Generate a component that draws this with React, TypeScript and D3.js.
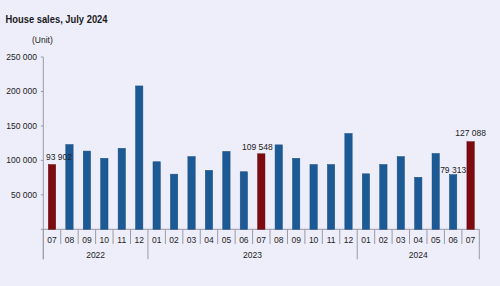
import React from "react";
import * as d3 from "d3";

const months = ["07","08","09","10","11","12","01","02","03","04","05","06","07","08","09","10","11","12","01","02","03","04","05","06","07"];
const years = ["2022","2022","2022","2022","2022","2022","2023","2023","2023","2023","2023","2023","2023","2023","2023","2023","2023","2023","2024","2024","2024","2024","2024","2024","2024"];
const sales = [93902,123000,113500,103000,117500,208000,98000,80000,105500,85500,113000,83500,109548,122500,103000,94000,94000,139000,80500,94000,105500,75500,110000,79313,127088];
const highlighted = [0, 12, 24];
const labelled = [0, 12, 23, 24];
const yTicks = [50000, 100000, 150000, 200000, 250000];
const yearNames = ["2022", "2023", "2024"];

// annotation placement tweaks (dx, dy from bar top)
const labelDx: Record<number, number> = { 0: 7, 12: -4, 23: 0, 24: 0 };
const labelDy: Record<number, number> = { 0: -5, 12: -3.5, 23: -1.5, 24: -6 };

const W = 500, H = 286;
const left = 43.3, right = 479.3, top = 57, bottom = 229.3;
const FONT = "'Liberation Sans', Arial, sans-serif";

const fmt = (v: number) => d3.format(",")(v).replace(/,/g, " ");

export default function App() {
  const idx = d3.range(months.length);
  const x = d3.scaleBand<number>().domain(idx).range([left, right]).paddingInner(0.58).paddingOuter(0.29);
  const step = x.step();
  const bandStart = (i: number) => left + i * step;
  const y = d3.scaleLinear().domain([0, 250000]).range([bottom, top]);

  const yearGroups = yearNames.map((yr) => {
    const ids = idx.filter((i) => years[i] === yr);
    return { yr, first: ids[0], last: ids[ids.length - 1] };
  });

  return (
    <div style={{ position: "absolute", left: 0, top: 0 }}>
      <svg width={W} height={H} style={{ display: "block" }} fontFamily={FONT}>
        <rect x={0} y={0} width={W} height={H} fill="#eeeefa" />
        <text x={5.5} y={23} fontSize={10.8} fontWeight="bold" fill="#1a1a1a" textLength={102} lengthAdjust="spacingAndGlyphs">House sales, July 2024</text>
        <text x={32} y={43} fontSize={8.5} fill="#222">(Unit)</text>

        {/* y axis */}
        <line x1={left} x2={left} y1={top} y2={259.3} stroke="#9a9aa8" strokeWidth={1} />
        {[0, ...yTicks].map((t) => (
          <line key={"t" + t} x1={left - 2.5} x2={left} y1={y(t)} y2={y(t)} stroke="#9a9aa8" />
        ))}
        {yTicks.map((t) => (
          <text key={"l" + t} x={37} y={y(t) + 3} fontSize={8.5} textAnchor="end" fill="#222">{fmt(t)}</text>
        ))}

        {/* x axis */}
        <line x1={left} x2={right} y1={bottom} y2={bottom} stroke="#9a9aa8" />
        {idx.map((i) => {
          const isYearEdge = i === 0 || years[i] !== years[i - 1];
          const xx = bandStart(i);
          return (
            <line key={"s" + i} x1={xx} x2={xx} y1={bottom} y2={isYearEdge ? 259.3 : 244} stroke="#9a9aa8" />
          );
        })}
        <line x1={right} x2={right} y1={bottom} y2={259.3} stroke="#9a9aa8" />
        {idx.map((i) => (
          <text key={"m" + i} x={(x(i) as number) + x.bandwidth() / 2} y={242.5} fontSize={8.5} textAnchor="middle" fill="#222">{months[i]}</text>
        ))}
        {yearGroups.map((g) => (
          <text key={g.yr} x={(bandStart(g.first) + bandStart(g.last + 1)) / 2} y={257.5} fontSize={8.5} textAnchor="middle" fill="#222">{g.yr}</text>
        ))}

        {/* bars */}
        {idx.map((i) => (
          <rect
            key={"b" + i}
            x={x(i)}
            y={y(sales[i])}
            width={x.bandwidth()}
            height={bottom - y(sales[i])}
            fill={highlighted.includes(i) ? "#7d0a0e" : "#1c5a96"}
            stroke={highlighted.includes(i) ? "#5a0508" : "#174a7e"}
            strokeWidth={0.5}
          />
        ))}

        {/* value labels */}
        {labelled.map((i) => (
          <text
            key={"v" + i}
            x={(x(i) as number) + x.bandwidth() / 2 + labelDx[i]}
            y={y(sales[i]) + labelDy[i]}
            fontSize={8.5}
            textAnchor="middle"
            fill="#222"
          >
            {fmt(sales[i])}
          </text>
        ))}
      </svg>
    </div>
  );
}
